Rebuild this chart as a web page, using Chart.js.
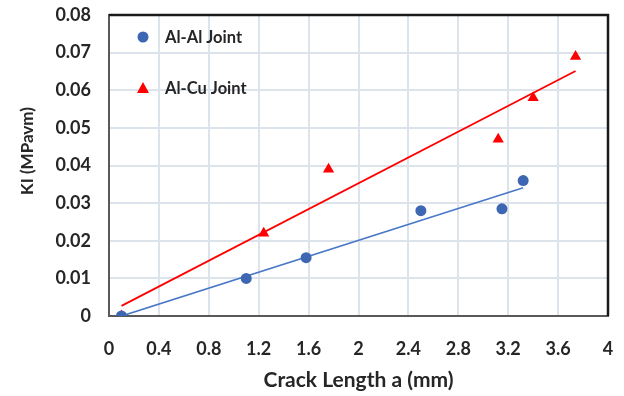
<!DOCTYPE html>
<html>
<head>
<meta charset="utf-8">
<script src="https://cdn.jsdelivr.net/npm/chart.js@4/dist/chart.umd.min.js"></script>
<style>
html,body{margin:0;padding:0;background:#fff;}
#wrap{position:relative;width:624px;height:396px;}
</style>
</head>
<body>
<div id="wrap"><canvas id="c" width="624" height="396"></canvas></div>
<script>
// ---- data ----
const alAlLength = [0.1, 1.1, 1.58, 2.5, 3.15, 3.32];
const alAlKI     = [0, 0.01, 0.0155, 0.028, 0.0285, 0.036];
const alCuLength = [0.1, 1.24, 1.76, 3.12, 3.4, 3.74];
const alCuKI     = [0, 0.022, 0.039, 0.047, 0.058, 0.069];
const seriesNames = ['Al-Al Joint', 'Al-Cu Joint'];
const xTitle = 'Crack Length a (mm)';
const yTitle = 'KI (MPavm)';
const xTickStep = 0.4;
const yTickStep = 0.01;

function pts(xs, ys){ return xs.map((x,i)=>({x:x, y:ys[i]})); }
// linear (least-squares) trendline spanning the data range
function trend(xs, ys){
  const n = xs.length;
  const mx = xs.reduce((a,b)=>a+b,0)/n, my = ys.reduce((a,b)=>a+b,0)/n;
  let sxy=0, sxx=0;
  for(let i=0;i<n;i++){ sxy += (xs[i]-mx)*(ys[i]-my); sxx += (xs[i]-mx)*(xs[i]-mx); }
  const m = sxy/sxx, b = my - m*mx;
  const x0 = Math.min(...xs), x1 = Math.max(...xs);
  return [{x:x0, y:m*x0+b}, {x:x1, y:m*x1+b}];
}

const FONT = 'Lato, "Open Sans", sans-serif';
const TXT = '#262626';
const blueMark = '#3d66b3', blueLine = '#4a78c8', red = '#ff0000';

const frame = {
  id:'frame',
  afterDatasetsDraw(chart){
    const {ctx, chartArea:a} = chart;
    ctx.save();
    ctx.strokeStyle = '#1a1a1a';
    ctx.lineWidth = 2.5;
    ctx.beginPath();
    ctx.moveTo(a.left, a.top);
    ctx.lineTo(a.right, a.top);
    ctx.lineTo(a.right, a.bottom);
    ctx.stroke();
    ctx.restore();
  },
  afterDraw(chart){
    const {ctx} = chart;
    ctx.save();
    ctx.textBaseline = 'middle';
    // y-axis title
    ctx.save();
    ctx.translate(28, 151);
    ctx.rotate(-Math.PI/2);
    ctx.textAlign = 'center';
    ctx.font = 'bold 17px ' + FONT;
    ctx.fillStyle = TXT;
    ctx.fillText(yTitle, 0, 0);
    ctx.restore();
    // legend
    ctx.font = 'bold 16.5px ' + FONT;
    ctx.fillStyle = blueMark;
    ctx.beginPath(); ctx.arc(143, 37, 5.5, 0, Math.PI*2); ctx.fill();
    ctx.fillStyle = TXT;
    ctx.fillText(seriesNames[0], 165, 38);
    ctx.fillStyle = red;
    ctx.beginPath(); ctx.moveTo(143, 82); ctx.lineTo(149, 93); ctx.lineTo(137, 93); ctx.closePath(); ctx.fill();
    ctx.fillStyle = TXT;
    ctx.fillText(seriesNames[1], 165, 89);
    ctx.restore();
  }
};

new Chart(document.getElementById('c'), {
  type: 'scatter',
  data: {
    datasets: [
      { label: seriesNames[0], data: pts(alAlLength, alAlKI), pointStyle:'circle', pointRadius:5.5,
        backgroundColor: blueMark, borderColor: blueMark, borderWidth:0, order:1 },
      { label: seriesNames[1], data: pts(alCuLength, alCuKI), pointStyle:'triangle', pointRadius:6.5,
        backgroundColor: red, borderColor: red, borderWidth:0, order:1 },
      { type:'line', label:'Al-Al trend', data: trend(alAlLength, alAlKI), borderColor: blueLine, borderWidth:1.6,
        pointRadius:0, showLine:true, fill:false, order:2 },
      { type:'line', label:'Al-Cu trend', data: trend(alCuLength, alCuKI), borderColor: red, borderWidth:1.8,
        pointRadius:0, showLine:true, fill:false, order:2 }
    ]
  },
  options: {
    responsive:false, animation:false,
    layout:{ padding:{ left:0, right:16, top:15, bottom:0 } },
    plugins:{ legend:{ display:false }, tooltip:{ enabled:false } },
    scales:{
      x:{
        type:'linear', min:0, max:4,
        afterFit(s){ s.height = 80; s.paddingLeft = 0; s.paddingRight = 0; },
        ticks:{ stepSize:xTickStep, padding:22, color:TXT, font:{ family:FONT, size:18, weight:'bold' },
          callback:(v)=> String(Number(v.toFixed(1))) },
        grid:{ color:'#dde3ea', lineWidth:2, drawTicks:false },
        border:{ color:'#595959', width:2 },
        title:{ display:true, text:xTitle, color:TXT,
          font:{ family:FONT, size:21, weight:'bold' }, padding:{ top:0, bottom:3 } }
      },
      y:{
        type:'linear', min:0, max:0.08,
        afterFit(s){ s.width = 109; s.paddingTop = 0; s.paddingBottom = 0; },
        ticks:{ stepSize:yTickStep, padding:18, color:TXT, font:{ family:FONT, size:18, weight:'bold' },
          callback:(v)=> v === 0 ? '0' : v.toFixed(2) },
        grid:{ color:'#dde3ea', lineWidth:2, drawTicks:false },
        border:{ color:'#595959', width:2 }
      }
    }
  },
  plugins:[frame]
});
</script>
</body>
</html>
